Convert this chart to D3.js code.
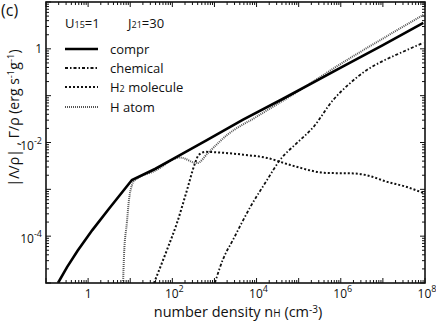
<!DOCTYPE html>
<html>
<head>
<meta charset="utf-8">
<script src="https://cdn.jsdelivr.net/npm/d3@7"></script>
<style>
  body { margin: 0; background: #fff; }
  svg text { font-family: "Open Sans", "DejaVu Sans", sans-serif; fill: #111; }
</style>
</head>
<body>
<svg id="chart" width="436" height="321"></svg>
<script>
// values, as log10 of n_H and log10 of rate
var comprLogN = [-0.715, -0.5, -0.25, 0.1, 0.5, 1.04, 1.6, 2.18, 2.82, 3.68, 4.64, 6, 7, 7.96]
var comprLogR = [-5, -4.66, -4.31, -3.87, -3.41, -2.80, -2.56, -2.27, -1.95, -1.51, -1.06, -0.40, 0.08, 0.556]

var chemLogN = [3.01, 3.2, 3.44, 3.85, 4.25, 4.56, 4.96, 5.34, 5.82, 6.2, 6.62, 7.0, 7.41, 7.96]
var chemLogR = [-5, -4.5, -4.08, -3.38, -2.80, -2.37, -2.01, -1.68, -1.09, -0.75, -0.45, -0.26, -0.09, 0.13]

var h2LogN = [1.565, 1.87, 2.11, 2.35, 2.54, 2.63, 2.8, 3.06, 3.68, 4.25, 4.8, 5.67, 6.3, 6.62, 7.1, 7.57, 7.96]
var h2LogR = [-5, -4.30, -3.72, -3.01, -2.44, -2.26, -2.2, -2.21, -2.26, -2.33, -2.48, -2.65, -2.66, -2.7, -2.84, -2.95, -3.08]

var hLogN = [0.83, 0.855, 0.92, 0.97, 1.04, 1.09, 1.6, 2.18, 2.59, 2.85, 3.3, 4.0, 5.0, 6, 7, 7.96]
var hLogR = [-5, -4.36, -3.72, -3.23, -2.91, -2.82, -2.6, -2.32, -2.44, -2.22, -1.84, -1.45, -0.90, -0.32, 0.22, 0.726]

var xTickPows = [0, 2, 4, 6, 8]
var yTickPows = [0, -2, -4]
var legendNames = ["compr", "chemical", "H2 molecule", "H atom"]

var svg = d3.select("#chart")
var plot = {left: 46, right: 425, top: 2, bottom: 283}

var x = d3.scaleLog().domain([0.1, 1e8]).range([plot.left, plot.right])
var y = d3.scaleLog().domain([1e-5, 10]).range([plot.bottom, plot.top])

var toPts = (ln, lr) => ln.map((v, i) => [Math.pow(10, v), Math.pow(10, lr[i])])

var series = [
    {name: legendNames[0], pts: toPts(comprLogN, comprLogR), w: 2.6, dash: null, color: "#000", curve: d3.curveLinear},
    {name: legendNames[1], pts: toPts(chemLogN, chemLogR), w: 1.8, dash: "3,2,1.5,2", color: "#111", curve: d3.curveMonotoneX},
    {name: legendNames[2], pts: toPts(h2LogN, h2LogR), w: 2.0, dash: "2,2", color: "#111", curve: d3.curveMonotoneX},
    {name: legendNames[3], pts: toPts(hLogN, hLogR), w: 2.0, dash: "1,1", color: "#555", curve: d3.curveMonotoneX}
]

svg.append("clipPath").attr("id", "clip")
    .append("rect")
    .attr("x", plot.left).attr("y", plot.top)
    .attr("width", plot.right - plot.left).attr("height", plot.bottom - plot.top)

// draw from the back: H atom under compr
var order = [3, 2, 1, 0]
svg.append("g").attr("clip-path", "url(#clip)")
    .selectAll("path")
    .data(order.map(i => series[i]))
    .enter().append("path")
    .attr("d", d => d3.line().curve(d.curve).x(p => x(p[0])).y(p => y(p[1]))(d.pts))
    .attr("fill", "none")
    .attr("stroke", d => d.color)
    .attr("stroke-width", d => d.w)
    .attr("stroke-dasharray", d => d.dash)

// ticks, inward on all four sides
var decadesX = d3.range(-1, 9).map(p => Math.pow(10, p))
var minorsX = []
decadesX.slice(0, -1).forEach(d => { for (var k = 2; k < 10; k++) minorsX.push(d * k) })
var decadesY = d3.range(-5, 2).map(p => Math.pow(10, p))
var minorsY = []
decadesY.slice(0, -1).forEach(d => { for (var k = 2; k < 10; k++) minorsY.push(d * k) })

var ticks = svg.append("g").attr("stroke", "#111").attr("stroke-width", 1)
var addX = (vals, len) => {
    ticks.selectAll(null).data(vals).enter().append("line")
        .attr("x1", d => x(d)).attr("x2", d => x(d))
        .attr("y1", plot.bottom).attr("y2", plot.bottom - len)
    ticks.selectAll(null).data(vals).enter().append("line")
        .attr("x1", d => x(d)).attr("x2", d => x(d))
        .attr("y1", plot.top).attr("y2", plot.top + len)
}
var addY = (vals, len) => {
    ticks.selectAll(null).data(vals).enter().append("line")
        .attr("y1", d => y(d)).attr("y2", d => y(d))
        .attr("x1", plot.left).attr("x2", plot.left + len)
    ticks.selectAll(null).data(vals).enter().append("line")
        .attr("y1", d => y(d)).attr("y2", d => y(d))
        .attr("x1", plot.right).attr("x2", plot.right - len)
}
addX(minorsX, 3); addX(decadesX, 5)
addY(minorsY, 3); addY(decadesY, 5)

svg.append("rect")
    .attr("x", plot.left).attr("y", plot.top)
    .attr("width", plot.right - plot.left).attr("height", plot.bottom - plot.top)
    .attr("fill", "none").attr("stroke", "#111").attr("stroke-width", 1.6)

// tick labels with superscripts
var powLabel = (sel, p) => {
    if (p === 0) { sel.text("1"); return }
    sel.append("tspan").text("10")
    sel.append("tspan").attr("font-size", 9).attr("dy", -6).text(p)
}
svg.selectAll(".xlab").data(xTickPows).enter().append("text")
    .attr("class", "xlab")
    .attr("x", d => x(Math.pow(10, d)) + (d === 0 ? 0 : 2))
    .attr("y", 298)
    .attr("font-size", 12)
    .attr("text-anchor", "middle")
    .each(function (d) { powLabel(d3.select(this), d) })

svg.selectAll(".ylab").data(yTickPows).enter().append("text")
    .attr("class", "ylab")
    .attr("x", 42)
    .attr("y", d => y(Math.pow(10, d)) + (d === 0 ? 4 : 7))
    .attr("font-size", 12)
    .attr("text-anchor", "end")
    .each(function (d) { powLabel(d3.select(this), d) })

// axis titles
var xt = svg.append("text").attr("x", 238).attr("y", 317)
    .attr("text-anchor", "middle").attr("font-size", 14.5)
xt.append("tspan").text("number density  n")
xt.append("tspan").attr("font-size", 10).text("H")
xt.append("tspan").text(" (cm")
xt.append("tspan").attr("font-size", 10).attr("dy", -4).text("-3")
xt.append("tspan").attr("dy", 4).text(")")

var yt = svg.append("text")
    .attr("transform", "translate(19,118) rotate(-90)")
    .attr("text-anchor", "middle").attr("font-size", 14)
yt.append("tspan").text("|\u039B/\u03C1| , \u0393/\u03C1  (erg s")
yt.append("tspan").attr("font-size", 9.5).attr("dy", -5).text("-1")
yt.append("tspan").attr("dy", 5).text("g")
yt.append("tspan").attr("font-size", 9.5).attr("dy", -5).text("-1")
yt.append("tspan").attr("dy", 5).text(")")

svg.append("text").attr("x", 1).attr("y", 16).attr("font-size", 16).text("(c)")

// parameter labels
var p1 = svg.append("text").attr("x", 65).attr("y", 28).attr("font-size", 13)
p1.append("tspan").text("U")
p1.append("tspan").attr("font-size", 9).text("15")
p1.append("tspan").text("=1")
var p2 = svg.append("text").attr("x", 128).attr("y", 28).attr("font-size", 13)
p2.append("tspan").text("J")
p2.append("tspan").attr("font-size", 9).text("21")
p2.append("tspan").text("=30")

// legend
var legendY = [49, 68, 87, 107]
var leg = svg.append("g").selectAll("g").data(series).enter().append("g")
    .attr("transform", (d, i) => `translate(65,${legendY[i]})`)
leg.append("line")
    .attr("x1", 0).attr("x2", 33)
    .attr("stroke", d => d.color)
    .attr("stroke-width", d => d.w)
    .attr("stroke-dasharray", d => d.dash)
leg.append("text")
    .attr("x", 45).attr("y", 4.5).attr("font-size", 13)
    .each(function (d) {
        var t = d3.select(this)
        if (d.name === "H2 molecule") {
            t.append("tspan").text("H")
            t.append("tspan").attr("font-size", 9).text("2")
            t.append("tspan").text(" molecule")
        } else t.text(d.name)
    })
</script>
</body>
</html>
